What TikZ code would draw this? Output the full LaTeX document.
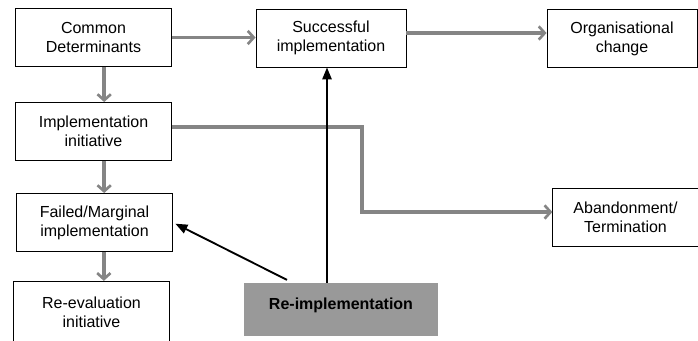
\documentclass[tikz,border=0pt]{standalone}
\usepackage{fontspec}
\setmainfont{Liberation Sans}
\usetikzlibrary{arrows.meta}

\definecolor{flowgrey}{HTML}{858585}
\definecolor{boxgrey}{HTML}{999999}

\tikzset{
    box/.style={draw, line width=0.7pt, align=center, minimum width=117pt, minimum height=43.5pt,
        inner sep=2pt, font=\fontsize{12}{14.3}\selectfont},
    flow/.style={flowgrey, line width=2.6pt, -{Straight Barb[length=4.5pt, width=10pt, line width=2pt]}},
    push/.style={black, line width=1.4pt, -{Triangle[length=9pt, width=7pt]}},
}

\begin{document}
\begin{tikzpicture}[x=0.75pt, y=-0.75pt]
    % --- Cadre ---
    \clip (0,0) rectangle (698,340);

    % --- Boîtes ---
    \node[box] (cd) at (93.5,37.5) {Common\\Determinants};
    \node[box, minimum width=112.5pt] (si) at (331,38) {Successful\\implementation};
    \node[box, minimum width=112.5pt] (oc) at (622,38.5) {Organisational\\change};
    \node[box] (ii) at (93.5,131.5) {Implementation\\initiative};
    \node[box] (fm) at (94.5,222.5) {Failed/Marginal\\implementation};
    \node[box, minimum height=46pt] (re) at (91.5,312) {Re-evaluation\\initiative};
    \node[box, minimum width=109pt] (ab) at (625.5,217) {Abandonment/\\Termination};
    \node[fill=boxgrey, minimum width=145.5pt, minimum height=40pt, inner sep=0pt,
        text depth=9pt, font=\fontsize{12}{14.3}\selectfont\bfseries] (ri) at (341,309.5) {Re-implementation};

    % --- Flèches grises ---
    \draw[flow] (cd.east) -- (cd.east -| si.west);
    \draw[flow] ([yshift=3.75pt]si.east) -- ([yshift=3.75pt]si.east -| oc.west);
    \draw[flow] ([xshift=8pt]cd.south) -- ([xshift=8pt]cd.south |- ii.north);
    \draw[flow] ([xshift=8pt]ii.south) -- ([xshift=8pt]ii.south |- fm.north);
    \draw[flow] ([xshift=7pt]fm.south) -- ([xshift=7pt]fm.south |- re.north);

    % --- Abandon ---
    \coordinate (bend) at (362,170);
    \draw[flow] ([yshift=3.4pt]ii.east) -| (bend) |- ([yshift=3.75pt]ab.west);

    % --- Flèches noires ---
    \draw[push] ([xshift=-10.5pt]ri.north) -- ([xshift=-10.5pt]ri.north |- si.south);
    \draw[push, shorten >=2pt] ([xshift=-40.5pt, yshift=2pt]ri.north) -- (fm.east);
\end{tikzpicture}
\end{document}
